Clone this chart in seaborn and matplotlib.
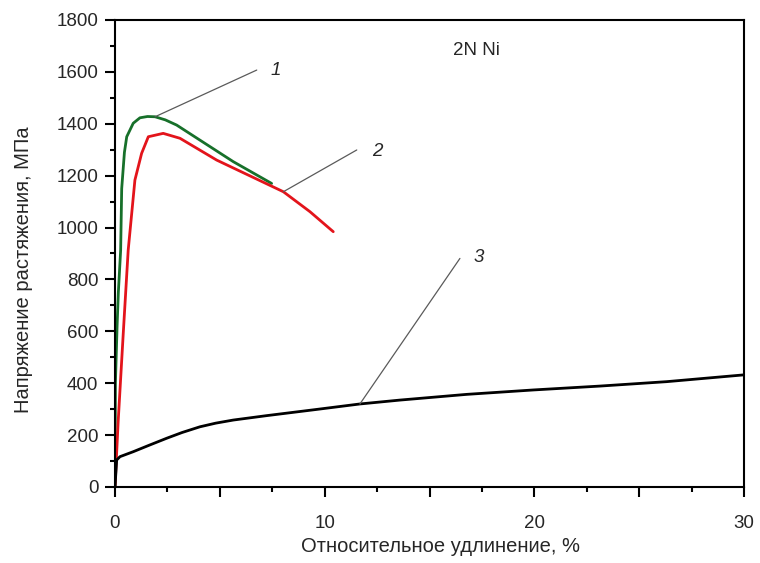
import numpy as np
import pandas as pd
import matplotlib
matplotlib.use("Agg")
import matplotlib.pyplot as plt
from matplotlib.ticker import MultipleLocator, FixedLocator
import seaborn as sns

# Kurve 1 (grün)
strain_1 = [0.0, 0.02, 0.10, 0.16, 0.27, 0.32, 0.45, 0.56, 0.87, 1.19, 1.55, 1.91, 2.40, 2.94, 4.05, 5.64, 7.47]
stress_1 = [0, 400, 620, 750, 913, 1150, 1290, 1350, 1402, 1423, 1428, 1427, 1415, 1395, 1337, 1254, 1170]

# Kurve 2 (rot)
strain_2 = [0.0, 0.15, 0.40, 0.63, 0.95, 1.27, 1.59, 2.30, 3.10, 4.85, 8.03, 9.30, 10.41]
stress_2 = [0, 250, 600, 913, 1183, 1286, 1350, 1363, 1344, 1260, 1138, 1061, 984]

# Kurve 3 (schwarz)
strain_3 = [0.0, 0.08, 0.24, 0.87, 1.60, 2.47, 3.20, 4.05, 4.80, 5.64, 7.23, 9.62, 11.68, 13.59, 16.77, 19.95, 23.13, 26.31, 29.97]
stress_3 = [0, 104, 117, 136, 160, 188, 210, 232, 246, 258, 275, 299, 320, 335, 357, 374, 389, 406, 432]

# Beschriftungen: Punkt auf Kurve -> Position der Nummer
labels = ["1", "2", "3"]
label_xy = [(7.4, 1607), (12.25, 1292), (17.1, 883)]
line_start = [(1.91, 1427), (8.03, 1138), (11.68, 320)]
line_end = [(6.76, 1607), (11.53, 1299), (16.45, 881)]

x_ticks = [0, 5, 10, 15, 20, 25, 30]
x_ticklabels = ["0", "", "10", "", "20", "", "30"]
x_minor = [2.5, 7.5, 12.5, 17.5, 22.5, 27.5]

df = pd.concat([
    pd.DataFrame({"strain": strain_1, "stress": stress_1, "curve": "1"}),
    pd.DataFrame({"strain": strain_2, "stress": stress_2, "curve": "2"}),
    pd.DataFrame({"strain": strain_3, "stress": stress_3, "curve": "3"}),
])

sns.set_theme(style="ticks")
plt.rcParams["font.family"] = ["Liberation Sans", "DejaVu Sans"]

fig = plt.figure(figsize=(7.6, 5.63), dpi=100)
ax = fig.add_axes([0.1513, 0.135, 0.8277, 0.8295])

sns.lineplot(data=df, x="strain", y="stress", hue="curve", sort=False,
             palette={"1": "#17702a", "2": "#e3141b", "3": "#000000"},
             linewidth=2.0, legend=False, ax=ax, estimator=None)

# Hinweislinien und Kurvennummern
for (x0, y0), (x1, y1) in zip(line_start, line_end):
    ax.plot([x0, x1], [y0, y1], color="#5a5a5a", linewidth=0.9)
for lab, (x, y) in zip(labels, label_xy):
    ax.text(x, y, lab, fontsize=13.5, style="italic", ha="left", va="center")

ax.text(17.25, 1684, "2N Ni", fontsize=13.5, ha="center", va="center")

ax.set_xlim(0, 30)
ax.set_ylim(0, 1800)
ax.xaxis.set_major_locator(FixedLocator(x_ticks))
ax.xaxis.set_minor_locator(FixedLocator(x_minor))
ax.set_xticklabels(x_ticklabels)
ax.yaxis.set_major_locator(MultipleLocator(200))
ax.yaxis.set_minor_locator(MultipleLocator(100))

ax.tick_params(axis="both", which="major", length=7, width=1.5, labelsize=13.5, color="black")
ax.tick_params(axis="both", which="minor", length=3.5, width=1.5, color="black")
ax.tick_params(axis="x", which="major", pad=13)
ax.tick_params(axis="y", which="major", pad=5)

for s in ax.spines.values():
    s.set_visible(True)
    s.set_linewidth(1.5)
    s.set_color("black")

ax.set_xlabel("Относительное удлинение, %", fontsize=14.5)
ax.set_ylabel("Напряжение растяжения, МПа", fontsize=14.5)
ax.xaxis.set_label_coords(0.517, -0.108)
ax.yaxis.set_label_coords(-0.130, 0.465)

fig.savefig("out.png", dpi=100)
plt.close(fig)
